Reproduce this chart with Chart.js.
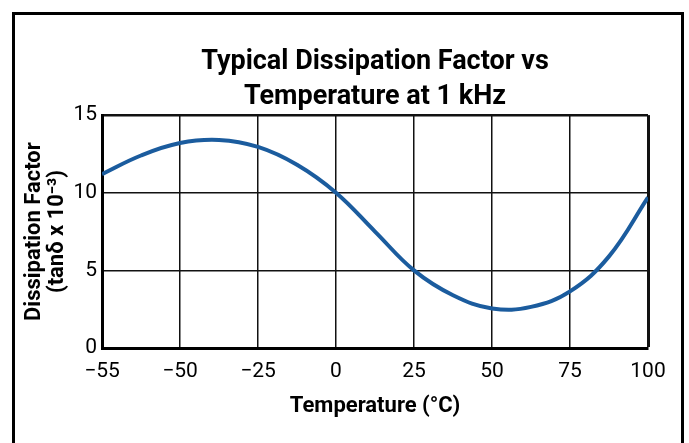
<!DOCTYPE html>
<html>
<head>
<meta charset="utf-8">
<script src="https://cdn.jsdelivr.net/npm/chart.js@4.4.1/dist/chart.umd.min.js"></script>
<style>
  body { margin: 0; background: #fff; }
  #wrap { position: relative; width: 689px; height: 443px; overflow: hidden; }
  #frame {
    position: absolute; left: 12px; top: 12px; width: 666px; height: 500px;
    border: 3px solid #000; pointer-events: none;
  }
  canvas { position: absolute; left: 0; top: 0; }
</style>
</head>
<body>
<div id="wrap">
  <canvas id="chart" width="689" height="443"></canvas>
  <div id="frame"></div>
</div>
<script>
// x axis ticks are evenly spaced even though the values are not
const xTicks = [-55, -50, -25, 0, 25, 50, 75, 100];
const yTicks = [0, 5, 10, 15];

// curve (temperature in °C, tanδ x 10^-3)
const temps = [-55, -52.5, -50, -37.5, -25, -12.5, 0, 12.5, 25, 37.5, 50, 62.5, 75, 87.5, 100];
const dissipation = [11.2, 12.4, 13.2, 13.4, 12.95, 11.8, 10.0, 7.5, 5.0, 3.4, 2.55, 2.65, 3.65, 5.9, 9.7];

// temperature -> position on the evenly spaced tick axis
function tempToPos(t) {
  for (let i = 0; i < xTicks.length - 1; i++) {
    const a = xTicks[i], b = xTicks[i + 1];
    if (t <= b) return i + (t - a) / (b - a);
  }
  return xTicks.length - 1;
}

const fmt = v => (v < 0 ? '\u2212' + Math.abs(v) : String(v));

const points = temps.map((t, i) => ({ x: tempToPos(t), y: dissipation[i] }));

const ctx = document.getElementById('chart').getContext('2d');
new Chart(ctx, {
  type: 'line',
  data: {
    datasets: [{
      data: points,
      borderColor: '#1b5c9e',
      borderWidth: 4,
      pointRadius: 0,
      fill: false,
      tension: 0.4,
    }]
  },
  options: {
    responsive: false,
    animation: false,
    layout: { padding: { left: 0, right: 41, top: 0, bottom: 0 } },
    plugins: {
      legend: { display: false },
      tooltip: { enabled: false },
      title: {
        display: true,
        fullSize: false,
        text: ['Typical Dissipation Factor vs', 'Temperature at 1 kHz'],
        color: '#000',
        font: { family: 'Roboto', weight: 'bold', size: 27, lineHeight: 1.28 },
        padding: { top: 45, bottom: 1 },
      },
    },
    scales: {
      x: {
        type: 'linear',
        min: 0,
        max: xTicks.length - 1,
        afterFit: s => { s.height = 95; },
        afterBuildTicks: s => { s.ticks = xTicks.map((v, i) => ({ value: i })); },
        ticks: {
          color: '#000',
          font: { family: 'Roboto', size: 21 },
          padding: 11,
          maxRotation: 0,
          autoSkip: false,
          callback: (v) => fmt(xTicks[v]),
        },
        grid: {
          drawTicks: false,
          color: '#111',
          lineWidth: c => (c.index === xTicks.length - 1 ? 3 : 1.5),
        },
        border: { color: '#000', width: 3 },
        title: {
          display: true,
          text: 'Temperature (\u00b0C)',
          color: '#000',
          font: { family: 'Roboto', weight: 'bold', size: 22, lineHeight: 1.2 },
          padding: { top: 0, bottom: 23 },
        },
      },
      y: {
        min: 0,
        max: 15,
        afterFit: s => { s.width = 102; },
        afterBuildTicks: s => { s.ticks = yTicks.map(v => ({ value: v })); },
        ticks: {
          color: '#000',
          font: { family: 'Roboto', size: 21 },
          padding: 5,
        },
        grid: {
          drawTicks: false,
          color: '#111',
          lineWidth: c => (c.tick && c.tick.value === 15 ? 2.5 : 1.5),
        },
        border: { color: '#000', width: 3 },
        title: {
          display: true,
          text: ['Dissipation Factor', '(tan\u03b4 x 10\u207b\u00b3)'],
          color: '#000',
          font: { family: 'Roboto', weight: 'bold', size: 22, lineHeight: 1.05 },
          padding: { top: 23, bottom: 0 },
        },
      },
    },
  },
});
</script>
</body>
</html>
